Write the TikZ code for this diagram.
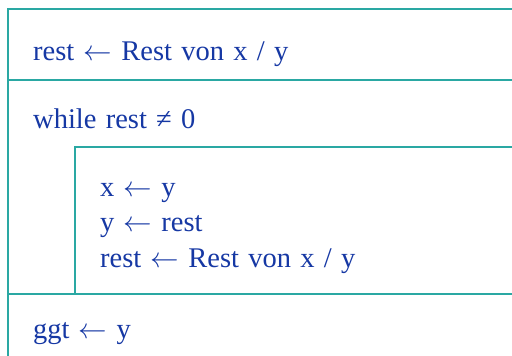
\RequirePackage{fix-cm}
\documentclass[tikz,border=0pt]{standalone}
\usepackage{fontspec}
\setmainfont[WordSpace=1.3]{Liberation Serif}
\usetikzlibrary{positioning}
\definecolor{NsdTeal}{RGB}{42,168,163}
\definecolor{NsdBlue}{RGB}{22,56,164}
\tikzset{
  nsd/line/.style={draw=NsdTeal, line width=1.3pt},
  nsd/text/.style={anchor=base west, inner sep=0pt, text=NsdBlue, font=\fontsize{28.5}{33}\selectfont}
}
\newcommand{\lar}{$\leftarrow$}
\begin{document}
\begin{tikzpicture}[x=1pt,y=-1pt]
  \useasboundingbox (0,0) rectangle (512,356);
  \coordinate (tl) at (8,9);
  \coordinate (bl) at (8,356);
  \coordinate (il) at (75,147);
  \coordinate (ib) at (75,294);
  \draw[nsd/line] (512,9) -- (tl) -- (bl);
  \draw[nsd/line] (8,80) -- (512,80);
  \draw[nsd/line] (512,147) -- (il) -- (ib);
  \draw[nsd/line] (8,294) -- (512,294);
  \node[nsd/text] (s1) at (33,60) {rest \lar{} Rest von x / y};
  \node[nsd/text] (w) at (33,128) {while rest ≠ 0};
  \node[nsd/text] (b1) at (100,196) {x \lar{} y};
  \node[nsd/text] (b2) at (100,231) {y \lar{} rest};
  \node[nsd/text] (b3) at (100,267) {rest \lar{} Rest von x / y};
  \node[nsd/text] (g) at (33,338) {ggt \lar{} y};
\end{tikzpicture}
\end{document}
